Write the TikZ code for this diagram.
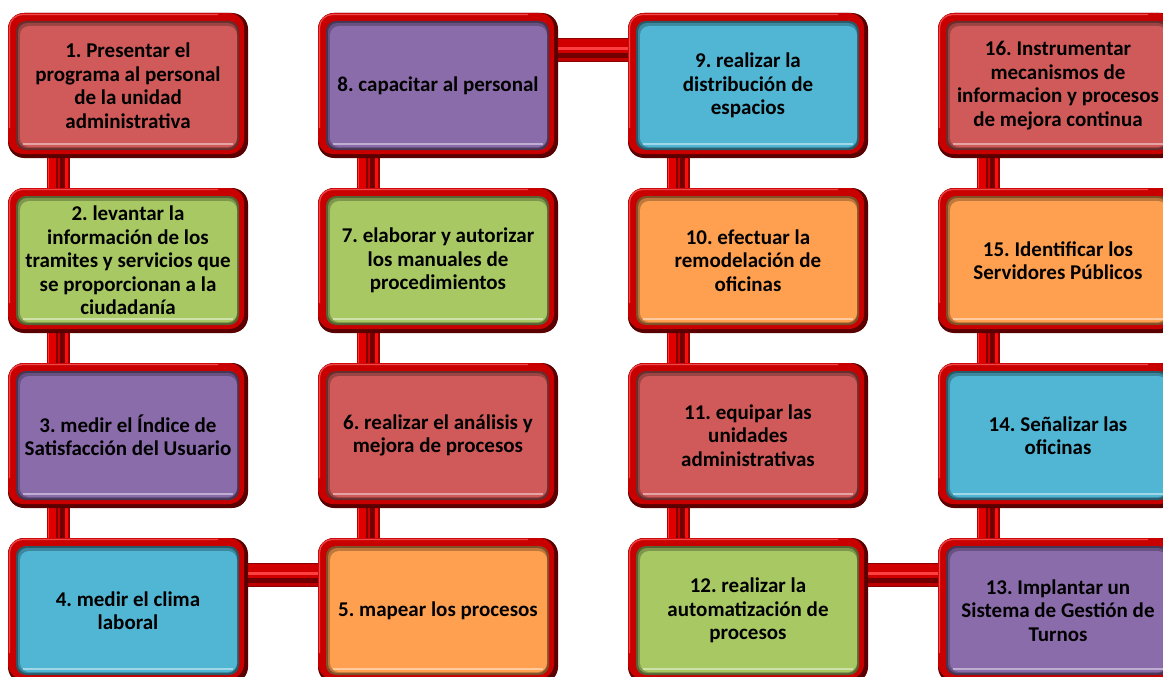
\documentclass[tikz,border=0pt]{standalone}
\usepackage{fontspec}
\setmainfont{Carlito}
\usetikzlibrary{calc}

% ring and tube colours
\definecolor{ringred}{HTML}{C80000}
\definecolor{ringdark}{HTML}{5A0000}
\definecolor{ringlight}{HTML}{F04848}
% panel colours
\definecolor{pred}{HTML}{CF5A59}
\definecolor{pgreen}{HTML}{A8C864}
\definecolor{ppurple}{HTML}{8B6CAB}
\definecolor{pblue}{HTML}{50B6D4}
\definecolor{porange}{HTML}{FFA050}

\pgfdeclarelayer{background}
\pgfsetlayers{background,main}

\tikzset{
  stepbox/.style={
    rectangle, rounded corners=16pt, minimum width=240pt, minimum height=145pt,
    inner sep=0pt, align=center, fill=ringdark, text=black,
    font=\fontsize{21}{23.5}\selectfont\bfseries\frenchspacing,
    path picture={
      \coordinate (pnw) at (path picture bounding box.north west);
      \coordinate (pse) at (path picture bounding box.south east);
      \coordinate (psw) at (path picture bounding box.south west);
      \coordinate (pne) at (path picture bounding box.north east);
      % ring body, leaving a dark rim on the right and bottom
      \fill[ringred, rounded corners=15pt] (pnw) rectangle ([xshift=-4pt,yshift=4pt]pse);
      % light rim along the top and left
      \draw[ringlight, line width=1.2pt, rounded corners=13pt]
        ([xshift=1.5pt,yshift=30pt]psw) -- ([xshift=1.5pt,yshift=-1.5pt]pnw) -- ([xshift=-30pt,yshift=-1.5pt]pne);
      % dark inner edge, thicker along the top, then the coloured panel
      \fill[#1!50!black, rounded corners=10pt] ([xshift=8pt,yshift=-8pt]pnw) rectangle ([xshift=-9pt,yshift=8pt]pse);
      \fill[#1!75!black, rounded corners=9pt] ([xshift=10pt,yshift=-10pt]pnw) rectangle ([xshift=-11pt,yshift=10pt]pse);
      \fill[#1, rounded corners=9pt] ([xshift=12pt,yshift=-13pt]pnw) rectangle ([xshift=-11pt,yshift=11pt]pse);
      % highlight line near the bottom of the panel
      \draw[#1!55!white, line width=1.6pt] ([xshift=15pt,yshift=14pt]psw) -- ([xshift=-15pt,yshift=14pt]pse);
    }
  }
}

% vertical tube between two named points on its left edge
\newcommand\vtube[2]{%
  \foreach \a/\b/\c in {0/23/red!70!black, 1/9/red!80!white, 2/9/red!88!black,
                        9/11/red!50!black, 11/13/red!80!black, 13/18/red!45!black,
                        18/21/red!95!white, 21/23/red!60!black}
    {\fill[\c] ([xshift=\a pt]#1) rectangle ([xshift=\b pt]#2);}}
% horizontal tube between two named points on its top edge
\newcommand\htube[2]{%
  \foreach \a/\b/\c in {0/24/red!55!black, 1/9/red!82!black, 9/12/red!75!white,
                        12/15/red!82!black, 15/20/red!45!black, 20/23/red!75!black}
    {\fill[\c] ([yshift=-\a pt]#1) rectangle ([yshift=-\b pt]#2);}}

\begin{document}
\begin{tikzpicture}[x=1pt,y=-1pt]
\useasboundingbox (0,0) rectangle (1163,677);
\clip (0,0) rectangle (1163,677);

% first column
\node[stepbox=pred]    (b1)  at (128,85.5)  {1. Presentar el\\programa al personal\\de la unidad\\administrativa};
\node[stepbox=pgreen]  (b2)  at (128,260.5) {2. levantar la\\información de los\\tramites y servicios que\\se proporcionan a la\\ciudadanía};
\node[stepbox=ppurple] (b3)  at (128,435.5) {3. medir el Índice de\\Satisfacción del Usuario};
\node[stepbox=pblue]   (b4)  at (128,610.5) {4. medir el clima\\laboral};
% second column
\node[stepbox=porange] (b5)  at (438,610.5) {5. mapear los procesos};
\node[stepbox=pred]    (b6)  at (438,435.5) {6. realizar el análisis y\\mejora de procesos};
\node[stepbox=pgreen]  (b7)  at (438,260.5) {7. elaborar y autorizar\\los manuales de\\procedimientos};
\node[stepbox=ppurple] (b8)  at (438,85.5)  {8. capacitar al personal};
% third column
\node[stepbox=pblue]   (b9)  at (748,85.5)  {9. realizar la\\distribución de\\espacios};
\node[stepbox=porange] (b10) at (748,260.5) {10. efectuar la\\remodelación de\\oficinas};
\node[stepbox=pred]    (b11) at (748,435.5) {11. equipar las\\unidades\\administrativas};
\node[stepbox=pgreen]  (b12) at (748,610.5) {12. realizar la\\automatización de\\procesos};
% fourth column
\node[stepbox=ppurple] (b13) at (1058,610.5) {13. Implantar un\\Sistema de Gestión de\\Turnos};
\node[stepbox=pblue]   (b14) at (1058,435.5) {14. Señalizar las\\oficinas};
\node[stepbox=porange] (b15) at (1058,260.5) {15. Identificar los\\Servidores Públicos};
\node[stepbox=pred]    (b16) at (1058,85.5)  {16. Instrumentar\\mecanismos de\\informacion y procesos\\de mejora continua};

% connecting tubes, behind the boxes
\begin{pgfonlayer}{background}
  % vertical tubes: upper box / lower box
  \foreach \u/\v in {b1/b2, b2/b3, b3/b4, b8/b7, b7/b6, b6/b5,
                     b9/b10, b10/b11, b11/b12, b16/b15, b15/b14, b14/b13}{
    \coordinate (ta) at ([xshift=39pt,yshift=6pt]\u.south west);
    \coordinate (tb) at ([xshift=39pt,yshift=-6pt]\v.north west);
    \vtube{ta}{tb}
  }
  % horizontal tubes: left box / right box
  \foreach \u/\v in {b4/b5, b8/b9, b12/b13}{
    \coordinate (ta) at ([xshift=-6pt,yshift=-25pt]\u.north east);
    \coordinate (tb) at ([xshift=6pt,yshift=-25pt]\v.north west);
    \htube{ta}{tb}
  }
\end{pgfonlayer}
\end{tikzpicture}
\end{document}
